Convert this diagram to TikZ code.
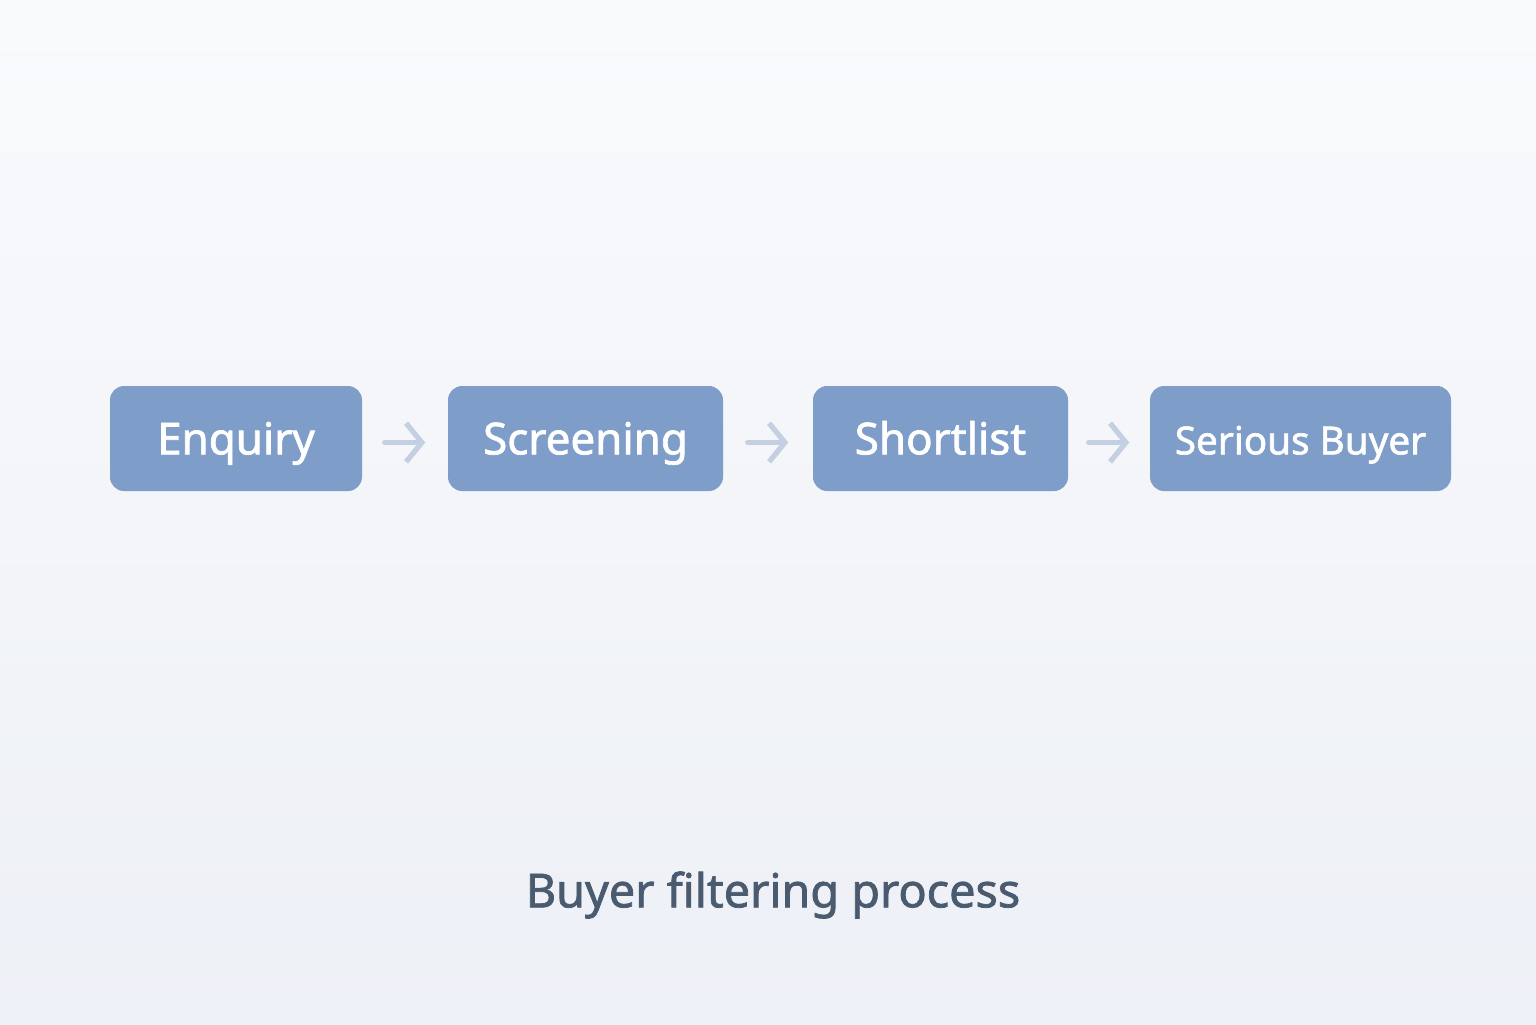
\documentclass[tikz,border=0pt]{standalone}
\usepackage{fontspec}
\setmainfont{Noto Sans}[FakeBold=1.6]
\usepackage{tikz}
\usetikzlibrary{positioning}
\usepackage{xcolor}
\definecolor{stepblue}{HTML}{7E9DC8}
\definecolor{arrowgrey}{HTML}{C4D0E2}
\definecolor{titlegrey}{HTML}{4A5B70}
\definecolor{bgtop}{HTML}{F9FAFC}
\definecolor{bgbottom}{HTML}{EDF0F6}
\tikzset{
  stage/.style={fill=stepblue,rounded corners=4pt,text=white,minimum height=1.05cm,inner sep=0pt,text height=11.5pt,text depth=2.5pt,font=\fontsize{12.5}{14}\selectfont\bfseries},
  flow/.style={arrowgrey,line width=1.5pt,line cap=round,-{Straight Barb[length=4.5pt,width=11pt,line width=1.5pt]}}
}
\usetikzlibrary{arrows.meta}
\begin{document}
\begin{tikzpicture}

\shade[top color=bgtop,bottom color=bgbottom] (0,0) rectangle (15.36,-10.24);
\useasboundingbox (0,0) rectangle (15.36,-10.24);
\node[stage,minimum width=2.52cm] (enquiry) at (2.36,-4.385) {Enquiry};
\node[stage,minimum width=2.75cm] (screening) at (5.855,-4.385) {Screening};
\node[stage,minimum width=2.55cm] (shortlist) at (9.405,-4.385) {Shortlist};
\node[stage,minimum width=3.01cm,font=\fontsize{11}{13}\selectfont\bfseries] (buyer) at (13.005,-4.385) {Serious Buyer};
\draw[flow] ([xshift=0.22cm,yshift=-0.04cm]enquiry.east)--([xshift=-0.22cm,yshift=-0.04cm]screening.west);
\draw[flow] ([xshift=0.24cm,yshift=-0.04cm]screening.east)--([xshift=-0.24cm,yshift=-0.04cm]shortlist.west);
\draw[flow] ([xshift=0.2cm,yshift=-0.04cm]shortlist.east)--([xshift=-0.2cm,yshift=-0.04cm]buyer.west);
\node[text=titlegrey,font=\fontsize{13.3}{15}\selectfont\bfseries] (title) at (7.73,-8.95) {Buyer filtering process};
  \end{tikzpicture}
\end{document}
